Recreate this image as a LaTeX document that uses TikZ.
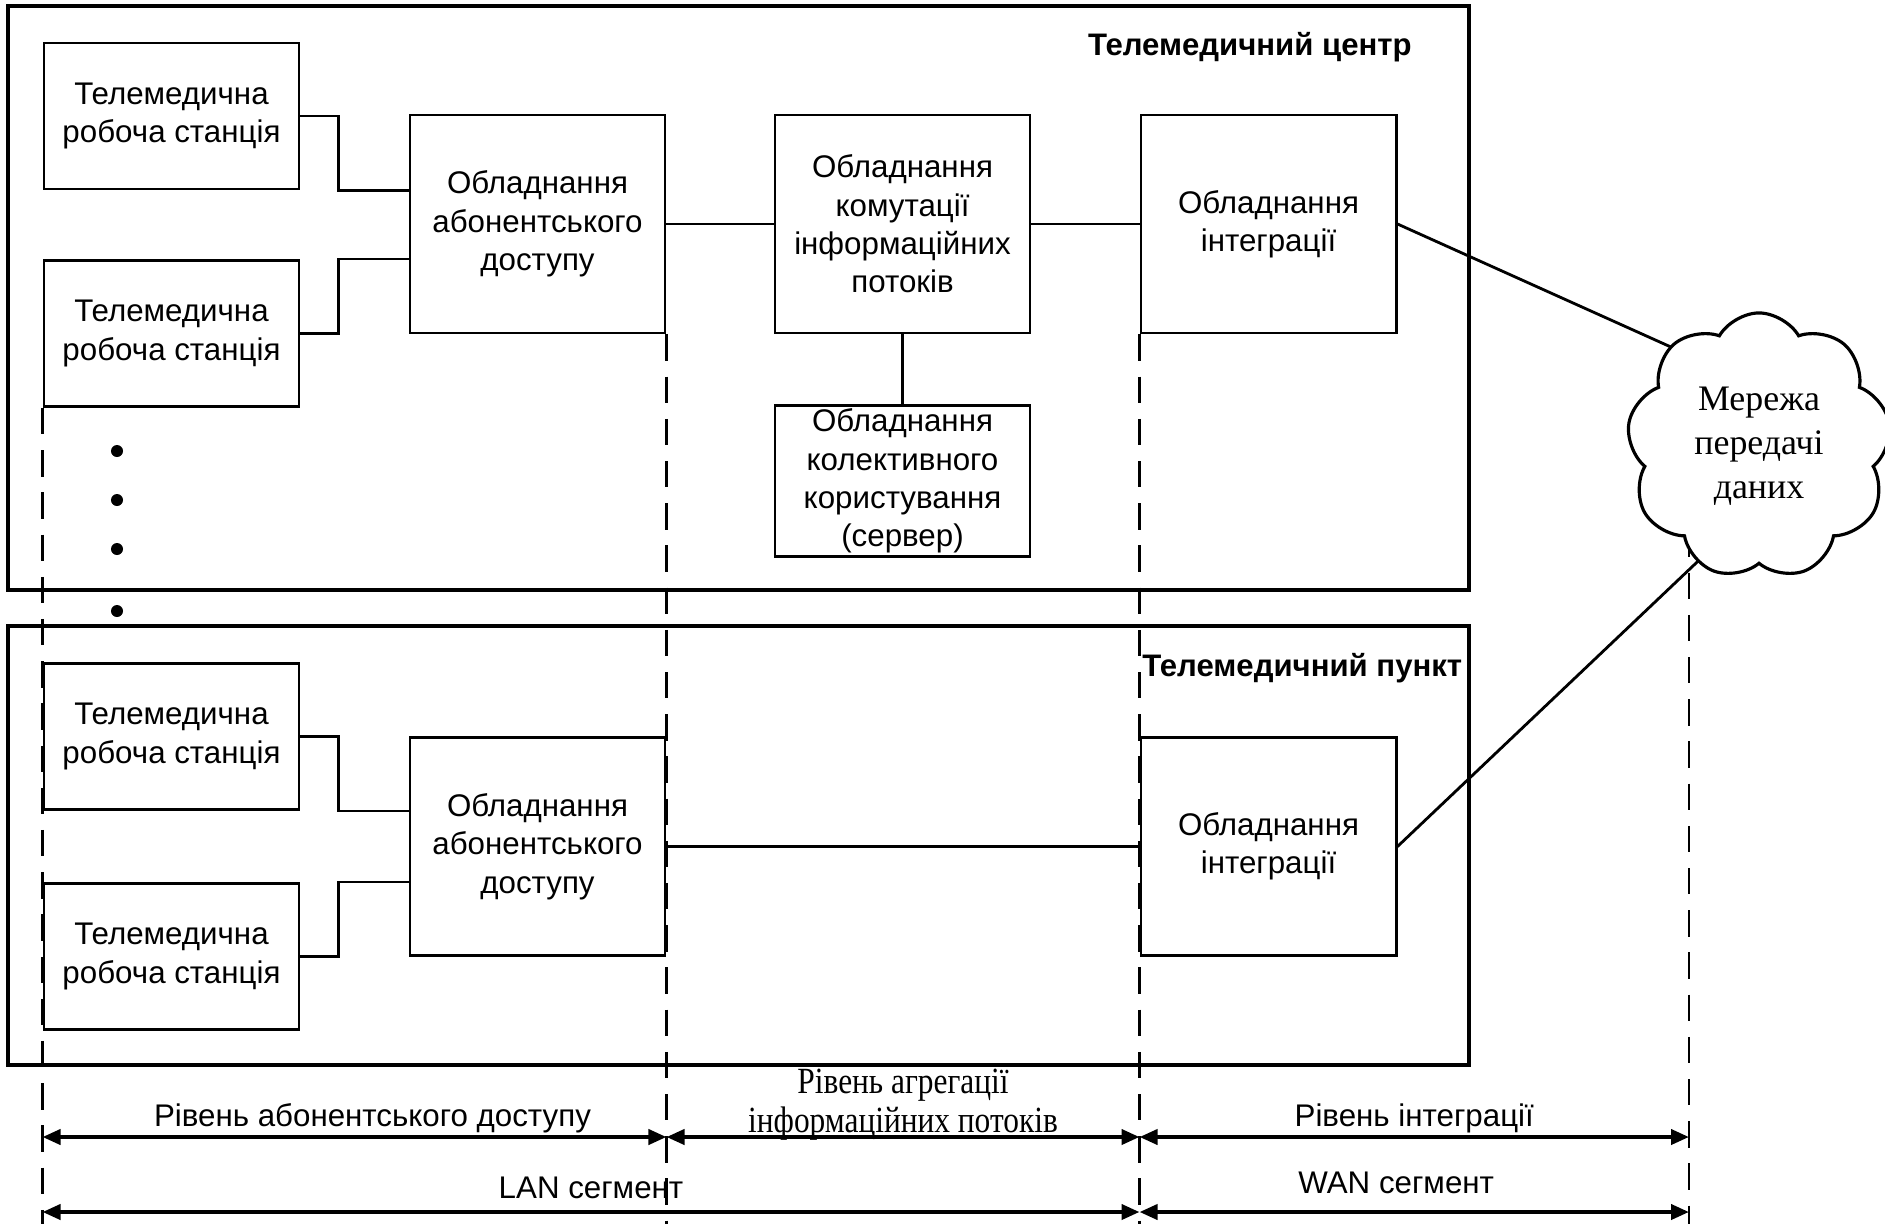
\documentclass[tikz,border=0pt]{standalone}
\usepackage{fontspec}
\setmainfont{Liberation Sans}
\newfontfamily\cloudfont{Liberation Serif}
\newfontfamily\narrowfont[FakeStretch=0.85]{Liberation Serif}
\usepackage{tikz}
\usetikzlibrary{shapes.symbols,arrows.meta,backgrounds}
\tikzset{
  block/.style   = {shape=rectangle, draw, align=center, fill=white,
                    line width=0.8pt, inner sep=1pt,
                    font=\fontsize{8.9}{10.9}\selectfont},
  station/.style = {block, minimum width=2.55cm, minimum height=1.46cm},
  equip/.style   = {block, minimum width=2.55cm, minimum height=2.18cm},
  server/.style  = {block, minimum width=2.55cm, minimum height=1.46cm},
  heading/.style = {font=\bfseries\fontsize{8.85}{10.9}\selectfont},
  outline/.style = {draw, line width=0.9pt},
  guide/.style   = {draw, line width=0.8pt, dash pattern=on 7.5pt off 4.5pt},
  link/.style    = {draw, line width=0.8pt},
  span/.style    = {draw, line width=1.1pt,
                    {Triangle[length=1.8mm,width=1.5mm]}-{Triangle[length=1.8mm,width=1.5mm]}},
  tag/.style     = {font=\fontsize{8.9}{10.9}\selectfont}
}

\begin{document}
\begin{tikzpicture}
  [
    x = 0.01cm,
    y = -0.01cm
  ]
  \useasboundingbox (0,0) rectangle (1885,1224);

  % two sites
  \draw[outline] (8,6) rectangle (1469,590);
  \draw[outline] (8,626) rectangle (1469,1065);
  \node[heading, anchor=east] (ctitle) at (1424,47) {Телемедичний центр};
  \node[heading, anchor=west] (ptitle) at (1130,668) {Телемедичний пункт};

  % telemedicine centre
  \node[station] (ws1)  at (171.5,116)   {Телемедична\\робоча станція};
  \node[station] (ws2)  at (171.5,333.5) {Телемедична\\робоча станція};
  \node[equip]   (acc1) at (537.5,224)   {Обладнання\\абонентського\\доступу};
  \node[equip]   (sw)   at (902.5,224)   {Обладнання\\комутації\\інформаційних\\потоків};
  \node[server]  (srv)  at (902.5,481)   {Обладнання\\колективного\\користування\\(сервер)};
  \node[equip]   (int1) at (1268.5,224)  {Обладнання\\інтеграції};

  % telemedicine point
  \node[station] (ws3)  at (171.5,736.5) {Телемедична\\робоча станція};
  \node[station] (ws4)  at (171.5,956.5) {Телемедична\\робоча станція};
  \node[equip]   (acc2) at (537.5,846.5) {Обладнання\\абонентського\\доступу};
  \node[equip]   (int2) at (1268.5,846.5) {Обладнання\\інтеграції};

  \node[cloud, draw, fill=white, cloud puffs=9, cloud puff arc=120,
        cloud ignores aspect, minimum width=2.64cm, minimum height=2.66cm,
        line width=0.9pt, align=center,
        font=\cloudfont\fontsize{10.2}{12.5}\selectfont] (net) at (1759,446)
        {Мережа\\передачі\\даних};

  \foreach \y in {451,500,549,611}
    \fill (117,\y) circle[radius=0.06cm];

  % links
  \draw[link] (ws1.east) -- ++(38,0) |- (acc1.west |- ws1.south);
  \draw[link] (ws2.east) -- ++(38,0) |- (acc1.west |- ws2.north);
  \draw[link] (ws3.east) -- ++(38,0) |- (acc2.west |- ws3.south);
  \draw[link] (ws4.east) -- ++(38,0) |- (acc2.west |- ws4.north);
  \draw[link] (acc1) -- (sw);
  \draw[link] (sw) -- (int1);
  \draw[link] (sw) -- (srv);
  \draw[link] (acc2) -- (int2);

  % levels
  \coordinate (lvl) at (0,1137);
  \coordinate (seg) at (0,1212);
  \coordinate (foot) at (0,1224);
  \coordinate (wan) at (1689,446);
  \coordinate (netin1) at (1722,370);
  \coordinate (netin2) at (1734,527);
  \begin{scope}[on background layer]
    \draw[link] (int1.east) -- (netin1);
    \draw[link] (int2.east) -- (netin2);
    \draw[guide] (ws2.south west) -- (ws2.south west |- foot);
    \draw[guide] (acc1.south east) -- (acc1.south east |- foot);
    \draw[guide] (int1.south west) -- (int1.south west |- foot);
    \draw[guide] (wan) -- (wan |- foot);
  \end{scope}

  \draw[span] (ws2.south west |- lvl) -- (acc1.south east |- lvl)
    node[tag, midway, above, inner sep=0.5pt, xshift=0.18cm] {Рівень абонентського доступу};
  \draw[span] (acc1.south east |- lvl) -- (int1.south west |- lvl)
    node[midway, above, inner sep=1pt, yshift=-0.085cm, align=center,
         font=\narrowfont\fontsize{10.5}{11}\selectfont] {Рівень агрегації\\інформаційних потоків};
  \draw[span] (int1.south west |- lvl) -- (wan |- lvl)
    node[tag, midway, above, inner sep=0.5pt] {Рівень інтеграції};
  \draw[span] (ws2.south west |- seg) -- (int1.south west |- seg)
    node[tag, midway, above] {LAN сегмент};
  \draw[span] (int1.south west |- seg) -- (wan |- seg)
    node[tag, midway, above, xshift=-0.18cm, yshift=0.05cm] {WAN сегмент};
\end{tikzpicture}
\end{document}
